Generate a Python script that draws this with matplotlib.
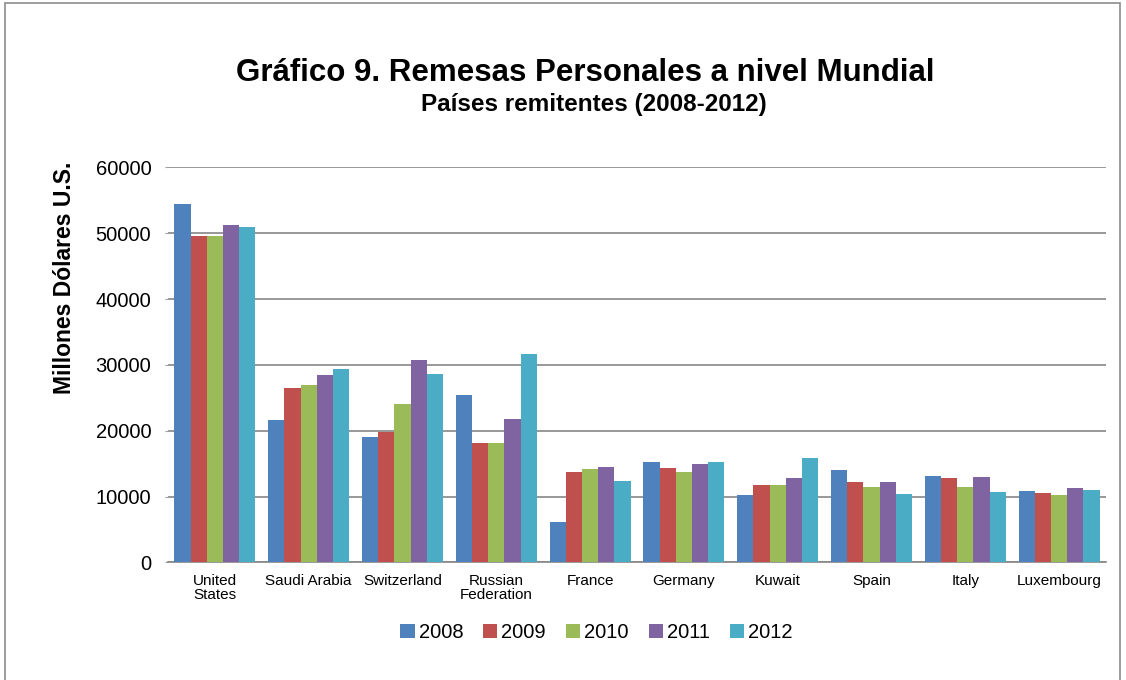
import matplotlib.pyplot as plt
import numpy as np

plt.rcParams['font.family'] = ['Liberation Sans', 'DejaVu Sans']

# Datos: remesas personales por país remitente (millones de dólares)
paises = ["United\nStates", "Saudi Arabia", "Switzerland", "Russian\nFederation", "France",
          "Germany", "Kuwait", "Spain", "Italy", "Luxembourg"]
anios = ["2008", "2009", "2010", "2011", "2012"]

v2008 = [54400, 21700, 19100, 25400, 6200, 15200, 10200, 14000, 13100, 10800]
v2009 = [49600, 26500, 19800, 18100, 13800, 14400, 11700, 12200, 12800, 10500]
v2010 = [49600, 27000, 24100, 18100, 14200, 13800, 11700, 11500, 11500, 10200]
v2011 = [51300, 28400, 30800, 21800, 14500, 15000, 12900, 12200, 13000, 11300]
v2012 = [51000, 29400, 28600, 31600, 12300, 15300, 15900, 10400, 10700, 11000]

series = [v2008, v2009, v2010, v2011, v2012]
colores = ['#4F81BD', '#C0504D', '#9BBB59', '#8064A2', '#4BACC6']

fig = plt.figure(figsize=(11.26, 6.8), dpi=100)
ax = fig.add_axes([0.1492, 0.1728, 0.833, 0.5812])

# Marco exterior del gráfico
fig.patches.append(plt.Rectangle((0.004, -0.01), 0.991, 1.005, transform=fig.transFigure,
                                 fill=False, edgecolor='#8c8c8c', linewidth=1.2))

x = np.arange(len(paises))
ancho = 0.1727
for i, (vals, col, anio) in enumerate(zip(series, colores, anios)):
    ax.bar(x + (i - 2) * ancho, vals, width=ancho, color=col, label=anio, zorder=3)

ax.set_xlim(-0.5, len(paises) - 0.5)
ax.set_ylim(0, 60000)
ax.set_yticks(range(0, 60001, 10000))
ax.yaxis.grid(True, color='#868686', linewidth=1.2, zorder=0)
ax.tick_params(axis='y', length=2, color='#a0a0a0', labelsize=14.5, pad=10)
ax.tick_params(axis='x', length=0, labelsize=11, pad=8)
ax.set_xticks(x)
ax.set_xticklabels(paises, linespacing=1.0)
for s in ['top', 'right', 'left']:
    ax.spines[s].set_visible(False)
ax.spines['bottom'].set_color('#868686')
ax.spines['bottom'].set_linewidth(1.2)

ax.set_ylabel("Millones Dólares U.S.", fontsize=16.5, fontweight='bold')
ax.yaxis.set_label_coords(-0.098, 0.72)

fig.text(0.52, 0.893, "Gráfico 9. Remesas Personales a nivel Mundial",
         ha='center', va='center', fontsize=22.5, fontweight='bold')
fig.text(0.527, 0.846, "Países remitentes (2008-2012)",
         ha='center', va='center', fontsize=17.5, fontweight='bold')

ax.legend(loc='center', bbox_to_anchor=(0.457, -0.178), ncol=5, frameon=False,
          fontsize=14.5, handlelength=0.7, handleheight=0.7, handletextpad=0.2,
          columnspacing=1.0)

plt.savefig("out.png", dpi=100)
